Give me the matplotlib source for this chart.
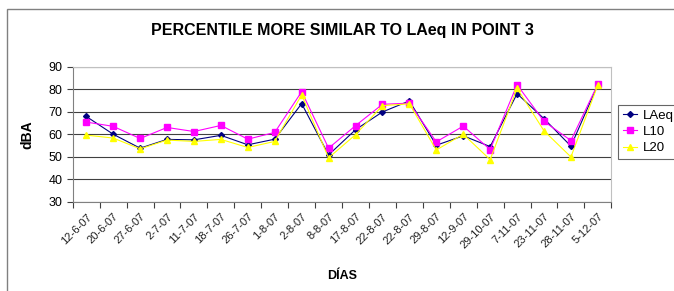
import matplotlib
matplotlib.use('Agg')
import matplotlib.pyplot as plt
from matplotlib.patches import Rectangle

plt.rcParams['font.family'] = ['Liberation Sans', 'DejaVu Sans']

# data
dias = ['12-6-07', '20-6-07', '27-6-07', '2-7-07', '11-7-07', '18-7-07', '26-7-07',
        '1-8-07', '2-8-07', '8-8-07', '17-8-07', '22-8-07', '22-8-07', '29-8-07',
        '12-9-07', '29-10-07', '7-11-07', '23-11-07', '28-11-07', '5-12-07']
laeq = [68, 60.1, 53.9, 57.8, 57.6, 59.6, 55.4, 57.9, 73.7, 50.9,
        62.1, 70, 74.9, 55.2, 59.4, 54.6, 78.1, 67, 54.8, 82.1]
l10 = [65.5, 63.6, 58.2, 63.1, 61.3, 64, 57.9, 60.9, 79, 53.9,
       63.9, 73.4, 73.9, 56.7, 63.7, 53.3, 82.1, 65.8, 57.3, 82.4]
l20 = [59.7, 58.4, 53.6, 57.5, 56.9, 57.8, 54.2, 56.9, 77.6, 49.6,
       59.9, 72.8, 73.6, 53.1, 60.1, 48.8, 80.5, 61.6, 50, 82]

fig = plt.figure(figsize=(6.74, 2.91), dpi=100)
ax = fig.add_axes([0.108, 0.306, 0.799, 0.464])

# outer chart border
fig.patches.append(Rectangle((7/674, -0.1), 1.2, 1 - 9/291 + 0.1, transform=fig.transFigure,
                             fill=False, edgecolor='#808080', linewidth=1))

x = range(len(dias))
ax.plot(x, laeq, color='#000080', marker='D', markersize=3, linewidth=0.8, label='LAeq')
ax.plot(x, l10, color='#ff00ff', marker='s', markersize=4, linewidth=0.8, label='L10')
ax.plot(x, l20, color='#ffff00', marker='^', markersize=4, linewidth=0.8, label='L20')

ax.set_xlim(-0.5, len(dias) - 0.5)
ax.set_ylim(30, 90)
ax.set_yticks(range(30, 91, 10))
ax.yaxis.grid(True, color='#404040', linewidth=0.8)
ax.set_axisbelow(True)

ax.set_xticks([i - 0.5 for i in range(len(dias) + 1)])
ax.set_xticklabels([])
ax.set_xticks(list(x), minor=True)
ax.set_xticklabels(dias, minor=True, rotation=45, ha='right', va='top', fontsize=8,
                   rotation_mode='anchor', color='#202020')
ax.tick_params(axis='x', which='minor', length=0, pad=7)
ax.tick_params(axis='x', which='major', length=4, direction='out', color='#404040')
ax.tick_params(axis='y', length=4, direction='out', labelsize=9, color='#404040')

for side in ['top', 'right']:
    ax.spines[side].set_color('#c0c0c0')
for side in ['left', 'bottom']:
    ax.spines[side].set_color('#808080')

ax.set_ylabel('dBA', fontsize=10, fontweight='bold', labelpad=10)
ax.set_xlabel('DÍAS', fontsize=9, fontweight='bold', labelpad=14)
fig.text(0.508, 0.895, 'PERCENTILE MORE SIMILAR TO LAeq IN POINT 3',
         ha='center', va='center', fontsize=11.5, fontweight='bold')

leg = fig.legend(loc='upper left', bbox_to_anchor=(618/674, 1 - 105/291), fontsize=9.5,
                 frameon=True, fancybox=False, edgecolor='#404040', borderpad=0.35,
                 labelspacing=0.3, handlelength=1.1, handletextpad=0.4, borderaxespad=0)
leg.get_frame().set_linewidth(0.8)

fig.savefig('out.png', dpi=100)
